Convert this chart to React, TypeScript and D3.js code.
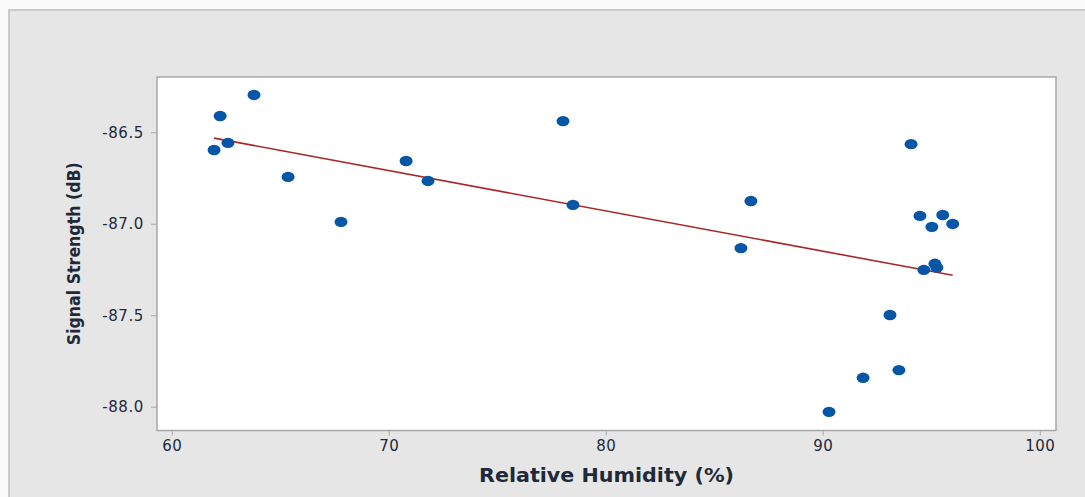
import { useEffect, useRef } from "react";
import * as d3 from "d3";

const W = 1085;
const H = 497;
// plot frame in page pixels
const PLOT = { left: 157, top: 77, right: 1056, bottom: 430.5 };

const HUMIDITY = [
  61.95, 62.23, 62.59, 63.79, 65.36, 67.8, 70.8, 71.81, 78.03, 78.49, 86.23,
  86.69, 90.29, 91.86, 93.1, 93.51, 94.07, 94.48, 94.66, 95.03, 95.17, 95.26,
  95.53, 95.99,
];
const SIGNAL = [
  -86.597, -86.411, -86.558, -86.296, -86.744, -86.99, -86.657, -86.766,
  -86.439, -86.897, -87.133, -86.876, -88.028, -87.842, -87.499, -87.8,
  -86.565, -86.957, -87.252, -87.017, -87.219, -87.24, -86.952, -87.001,
];
const X_TICKS = [60, 70, 80, 90, 100];
const Y_TICKS = [-86.5, -87.0, -87.5, -88.0];

const X_DOMAIN = [59.32, 100.75];
const Y_DOMAIN = [-88.13, -86.198];

const FONT = '"DejaVu Sans", Verdana, sans-serif';

export default function App() {
  const svgRef = useRef<SVGSVGElement | null>(null);

  useEffect(() => {
    const svg = d3.select(svgRef.current);
    svg.selectAll("*").remove();

    const x = d3.scaleLinear().domain(X_DOMAIN).range([PLOT.left, PLOT.right]);
    const y = d3.scaleLinear().domain(Y_DOMAIN).range([PLOT.bottom, PLOT.top]);

    svg.append("rect").attr("width", W).attr("height", H).attr("fill", "#fafafa");
    svg
      .append("rect")
      .attr("x", 9)
      .attr("y", 10)
      .attr("width", W + 20)
      .attr("height", H + 20)
      .attr("fill", "#e6e6e6")
      .attr("stroke", "#cbcbcb")
      .attr("stroke-width", 2);

    svg
      .append("rect")
      .attr("x", PLOT.left)
      .attr("y", PLOT.top)
      .attr("width", PLOT.right - PLOT.left)
      .attr("height", PLOT.bottom - PLOT.top)
      .attr("fill", "#ffffff")
      .attr("stroke", "#a8a8a8")
      .attr("stroke-width", 1.5);

    const xAxis = svg
      .append("g")
      .attr("transform", `translate(0,${PLOT.bottom})`)
      .call(d3.axisBottom(x).tickValues(X_TICKS).tickFormat(d3.format("d")).tickSize(5).tickPadding(5));
    xAxis.select(".domain").remove();
    xAxis.selectAll(".tick line").attr("stroke", "#a8a8a8");
    xAxis
      .selectAll(".tick text")
      .attr("fill", "#1e2a3a")
      .attr("font-size", 15)
      .attr("letter-spacing", 0.5)
      .attr("font-family", FONT);

    const yAxis = svg
      .append("g")
      .attr("transform", `translate(${PLOT.left},0)`)
      .call(d3.axisLeft(y).tickValues(Y_TICKS).tickFormat(d3.format(".1f")).tickSize(6).tickPadding(7));
    yAxis.select(".domain").remove();
    yAxis.selectAll(".tick line").attr("stroke", "#a8a8a8");
    yAxis
      .selectAll(".tick text")
      .attr("fill", "#1e2a3a")
      .attr("font-size", 15)
      .attr("letter-spacing", 0.6)
      .attr("font-family", FONT)
      .text((d: any) => d3.format(".1f")(d).replace("−", "-"));

    // least-squares fit line
    const mx = d3.mean(HUMIDITY) as number;
    const my = d3.mean(SIGNAL) as number;
    let sxy = 0;
    let sxx = 0;
    HUMIDITY.forEach((h, i) => {
      sxy += (h - mx) * (SIGNAL[i] - my);
      sxx += (h - mx) * (h - mx);
    });
    const slope = sxy / sxx;
    const icept = my - slope * mx;
    const [x0, x1] = d3.extent(HUMIDITY) as [number, number];

    svg
      .append("line")
      .attr("x1", x(x0))
      .attr("y1", y(icept + slope * x0))
      .attr("x2", x(x1))
      .attr("y2", y(icept + slope * x1))
      .attr("stroke", "#a82828")
      .attr("stroke-width", 1.6);

    svg
      .selectAll(".pt")
      .data(HUMIDITY.map((h, i) => [h, SIGNAL[i]]))
      .join("ellipse")
      .attr("cx", (d) => x(d[0]))
      .attr("cy", (d) => y(d[1]))
      .attr("rx", 6.5)
      .attr("ry", 5.2)
      .attr("fill", "#0656a8");

    svg
      .append("text")
      .attr("x", (PLOT.left + PLOT.right) / 2)
      .attr("y", 481.5)
      .attr("text-anchor", "middle")
      .attr("fill", "#1e2a3a")
      .attr("font-size", 19)
      .attr("font-weight", 700)
      .attr("font-family", FONT)
      .attr("textLength", 255)
      .attr("lengthAdjust", "spacingAndGlyphs")
      .text("Relative Humidity (%)");

    svg
      .append("text")
      .attr("transform", `translate(80,${(PLOT.top + PLOT.bottom) / 2}) rotate(-90)`)
      .attr("text-anchor", "middle")
      .attr("fill", "#1e2a3a")
      .attr("font-size", 17)
      .attr("font-weight", 700)
      .attr("font-family", '"Liberation Sans Narrow", "DejaVu Sans Condensed", sans-serif')
      .attr("textLength", 183)
      .attr("lengthAdjust", "spacingAndGlyphs")
      .text("Signal Strength (dB)");
  }, []);

  return (
    <svg
      ref={svgRef}
      width={W}
      height={H}
      style={{ position: "fixed", left: 0, top: 0, display: "block" }}
    />
  );
}
